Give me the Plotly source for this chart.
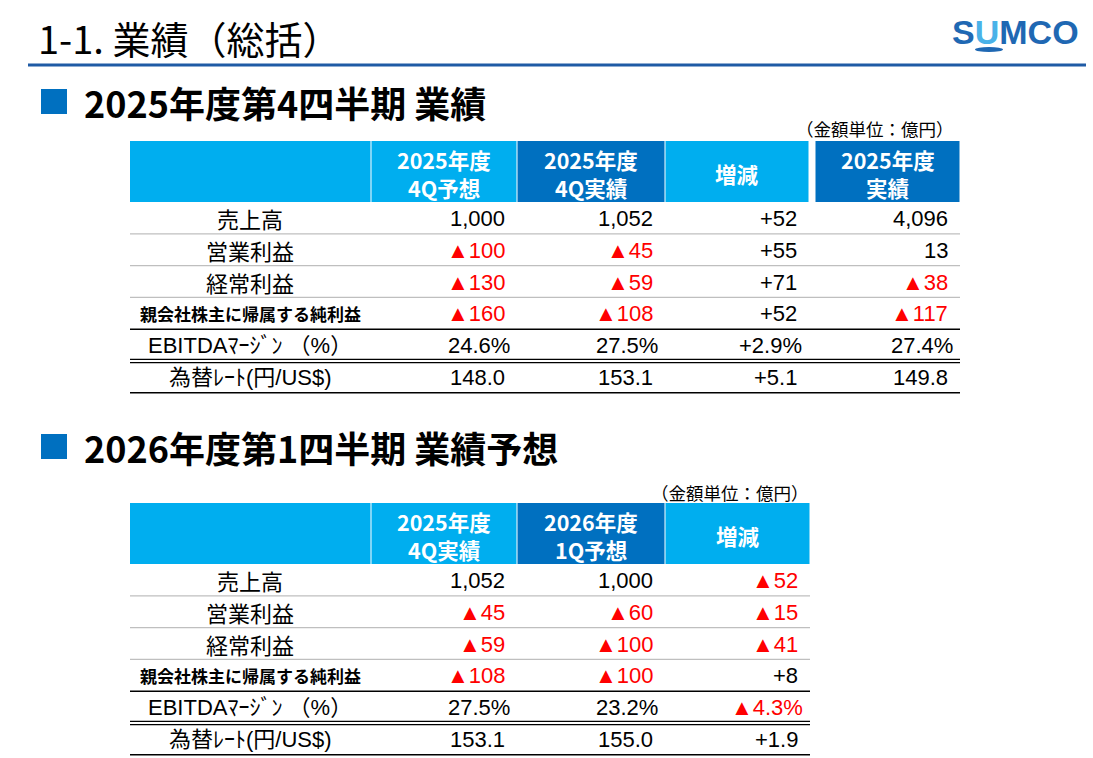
import plotly.graph_objects as go

# ---- data ----
metrics = ["売上高", "営業利益", "経常利益", "親会社株主に帰属する純利益",
           "EBITDAﾏｰｼﾞﾝ （%）", "為替ﾚｰﾄ(円/US$)"]
row_kind = ["int", "int", "int", "int", "pct", "dec"]

q4_headers = ["2025年度<br>4Q予想", "2025年度<br>4Q実績", "増減", "2025年度<br>実績"]
q4_forecast = [1000, -100, -130, -160, 24.6, 148.0]
q4_actual = [1052, -45, -59, -108, 27.5, 153.1]
q4_change = [52, 55, 71, 52, 2.9, 5.1]
fy2025_actual = [4096, 13, -38, -117, 27.4, 149.8]

q1_headers = ["2025年度<br>4Q実績", "2026年度<br>1Q予想", "増減"]
q1_prev_actual = [1052, -45, -59, -108, 27.5, 153.1]
q1_forecast = [1000, -60, -100, -100, 23.2, 155.0]
q1_change = [-52, -15, -41, 8, -4.3, 1.9]

title = "1-1. 業績（総括）"
section1 = "2025年度第4四半期 業績"
section2 = "2026年度第1四半期 業績予想"
unit_note = "（金額単位：億円）"

# ---- style ----
LIGHT = "#00AEEF"
DARK = "#0070C0"
RED = "#FF0000"
JP = "Noto Sans CJK JP"
NUM = "Liberation Sans, Noto Sans CJK JP"
ROW_H = 31.8
HEAD_H = 61

shapes = []
annotations = []


def fmt(v, kind, signed=False):
    a = abs(v)
    if kind == "int":
        s = f"{a:,.0f}"
    elif kind == "pct":
        s = f"{a:.1f}%"
    else:
        s = f"{a:.1f}"
    if v < 0:
        return "▲" + s, RED
    if signed:
        return "+" + s, "black"
    return s, "black"


def text(x, y, s, size, color="black", family=JP, anchor="center"):
    annotations.append(dict(x=x, y=y, xref="x", yref="y", text=s, showarrow=False,
                            xanchor=anchor, yanchor="middle",
                            font=dict(family=family, size=size, color=color)))


def line(x0, x1, y, color, width):
    shapes.append(dict(type="line", xref="x", yref="y", x0=x0, x1=x1, y0=y, y1=y,
                       line=dict(color=color, width=width)))


def draw_table(top, cols, headers, series, signed, head_colors):
    left = 130
    right = cols[-1][1]
    hb = top + HEAD_H
    # header cells
    shapes.append(dict(type="rect", xref="x", yref="y", x0=left, x1=cols[0][0] - 0.5,
                       y0=top, y1=hb, fillcolor=LIGHT, line=dict(width=0), layer="below"))
    for (x0, x1), h, c in zip(cols, headers, head_colors):
        shapes.append(dict(type="rect", xref="x", yref="y", x0=x0 + 0.5, x1=x1 - 0.5,
                           y0=top, y1=hb, fillcolor=c, line=dict(width=0), layer="below"))
        parts = h.split("<br>")
        xc = (x0 + x1) / 2
        if len(parts) == 2:
            text(xc, top + 18.5, "<b>" + parts[0] + "</b>", 21.5, "white")
            text(xc, top + 46.5, "<b>" + parts[1] + "</b>", 21.5, "white")
        else:
            text(xc, top + 32, "<b>" + parts[0] + "</b>", 21.5, "white")
    # rows
    for i, m in enumerate(metrics):
        y0 = hb + i * ROW_H
        yc = y0 + ROW_H / 2 + 0.5
        if i == 3:
            text(250, yc, "<b>" + m + "</b>", 17)
        else:
            text(250, yc, m, 22, family=NUM if i >= 4 else JP)
        for (x0, x1), vals, sg in zip(cols, series, signed):
            s, c = fmt(vals[i], row_kind[i], sg)
            xr = x1 - 10 + (5 if s.endswith("%") else 0)
            text(xr, yc, s, 22, c, NUM, "right")
        yb = y0 + ROW_H
        if i < 3:
            line(left, right, yb, "#BFBFBF", 1.3)
        elif i == 4:
            line(left, right, yb - 1.6, "black", 1.3)
            line(left, right, yb + 1.6, "black", 1.3)
        else:
            line(left, right, yb, "black", 1.6)


# ---- page header ----
text(36, 37, title, 38, anchor="left")
line(28, 1086, 65, "#1F5BA5", 3)
annotations.append(dict(x=1081, y=32, xref="x", yref="y", showarrow=False,
                        xanchor="right", yanchor="middle",
                        text="<b>S<span style='color:#4AB2E8'>U</span>MCO</b>",
                        font=dict(family="Liberation Sans", size=34, color="#1F68B3")))
shapes.append(dict(type="circle", xref="x", yref="y", x0=975, x1=1003, y0=47, y1=52,
                   fillcolor="#1F68B3", line=dict(width=0)))

# ---- section 1 ----
shapes.append(dict(type="rect", xref="x", yref="y", x0=41, x1=67, y0=89, y1=114,
                   fillcolor=DARK, line=dict(width=0)))
text(82, 102, "<b>" + section1 + "</b>", 36, anchor="left")
text(956, 128, unit_note, 17.5, anchor="right")
draw_table(141,
           [(371, 517), (517, 665), (665, 809), (815, 960)],
           q4_headers,
           [q4_forecast, q4_actual, q4_change, fy2025_actual],
           [False, False, True, False],
           [LIGHT, DARK, LIGHT, DARK])

# ---- section 2 ----
shapes.append(dict(type="rect", xref="x", yref="y", x0=41, x1=67, y0=434, y1=459,
                   fillcolor=DARK, line=dict(width=0)))
text(82, 447, "<b>" + section2 + "</b>", 36, anchor="left")
text(811, 492, unit_note, 17.5, anchor="right")
draw_table(503,
           [(371, 517), (517, 665), (665, 810)],
           q1_headers,
           [q1_prev_actual, q1_forecast, q1_change],
           [False, False, True],
           [LIGHT, DARK, LIGHT])

fig = go.Figure()
fig.update_layout(
    width=1093, height=758,
    margin=dict(l=0, r=0, t=0, b=0),
    paper_bgcolor="white", plot_bgcolor="white",
    xaxis=dict(range=[0, 1093], visible=False, fixedrange=True),
    yaxis=dict(range=[758, 0], visible=False, fixedrange=True),
    shapes=shapes, annotations=annotations,
    showlegend=False,
)
# drop the default body margin so the figure fills the window exactly
fig.write_html("out.html", config={"displayModeBar": False},
               post_script="document.body.style.margin='0';")
